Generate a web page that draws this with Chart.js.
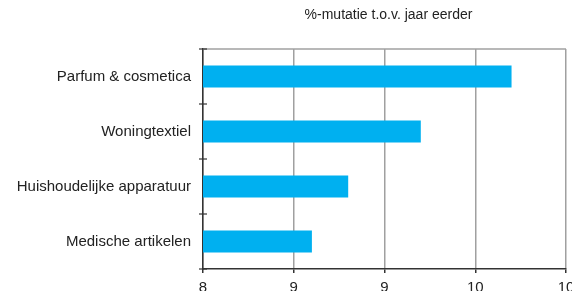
<!DOCTYPE html>
<html>
<head>
<meta charset="utf-8">
<script src="https://cdn.jsdelivr.net/npm/chart.js@4/dist/chart.umd.min.js"></script>
<style>
  html, body { margin: 0; padding: 0; background: #fff; overflow: hidden; }
  #wrap { width: 572px; height: 291px; }
</style>
</head>
<body>
<div id="wrap"><canvas id="chart"></canvas></div>
<script>
const categories = ['Parfum & cosmetica', 'Woningtextiel', 'Huishoudelijke apparatuur', 'Medische artikelen'];
const mutatie = [9.7, 9.2, 8.8, 8.6];
const xTickLabels = ['8', '9', '9', '10', '10'];
const subtitle = '%-mutatie t.o.v. jaar eerder';

const FONT = '"Liberation Sans", Arial, sans-serif';

// subtitle above the plot area + grey frame on top
const frame = {
  id: 'frame',
  afterDraw(chart) {
    const {ctx, chartArea: a} = chart;
    ctx.save();
    ctx.strokeStyle = '#a0a0a0';
    ctx.lineWidth = 1.5;
    ctx.beginPath();
    ctx.moveTo(a.left, a.top);
    ctx.lineTo(a.right, a.top);
    ctx.stroke();
    // tick marks crossing the category axis
    const y = chart.scales.y;
    ctx.strokeStyle = '#333';
    ctx.lineWidth = 1.2;
    for (let i = 0; i <= categories.length; i++) {
      const py = y.getPixelForValue(i - 0.5);
      ctx.beginPath();
      ctx.moveTo(a.left - 4, py);
      ctx.lineTo(a.left + 4, py);
      ctx.stroke();
    }
    ctx.fillStyle = '#222';
    ctx.font = '14px ' + FONT;
    ctx.textAlign = 'center';
    ctx.textBaseline = 'middle';
    ctx.fillText(subtitle, (a.left + a.right) / 2 + 4, 15);
    ctx.restore();
  }
};

new Chart(document.getElementById('chart'), {
  type: 'bar',
  data: {
    labels: categories,
    datasets: [{
      data: mutatie,
      backgroundColor: '#00b0f0',
      borderWidth: 0,
      barPercentage: 0.4,
      categoryPercentage: 1
    }]
  },
  options: {
    indexAxis: 'y',
    responsive: true,
    maintainAspectRatio: false,
    animation: false,
    layout: { padding: { top: 49, right: 6, left: 0, bottom: 0 } },
    plugins: {
      legend: { display: false },
      tooltip: { enabled: false },
      title: { display: false }
    },
    scales: {
      x: {
        min: 8,
        max: 10,
        ticks: {
          stepSize: 0.5,
          color: '#222',
          font: { family: FONT, size: 15 },
          padding: 6,
          maxRotation: 0,
          callback: (v, i) => xTickLabels[i]
        },
        grid: { color: '#a0a0a0', lineWidth: 1.5, tickColor: '#333', tickLength: 4 },
        border: { color: '#333', width: 1.5 },
        afterFit(scale) {
          scale.height = 22;
          scale.paddingLeft = 0;
          scale.paddingRight = 0;
        }
      },
      y: {
        ticks: {
          color: '#222',
          font: { family: FONT, size: 15 },
          padding: 4
        },
        grid: { display: false },
        border: { color: '#333', width: 1.5 },
        afterFit(scale) { scale.width = 203; }
      }
    }
  },
  plugins: [frame]
});
</script>
</body>
</html>
